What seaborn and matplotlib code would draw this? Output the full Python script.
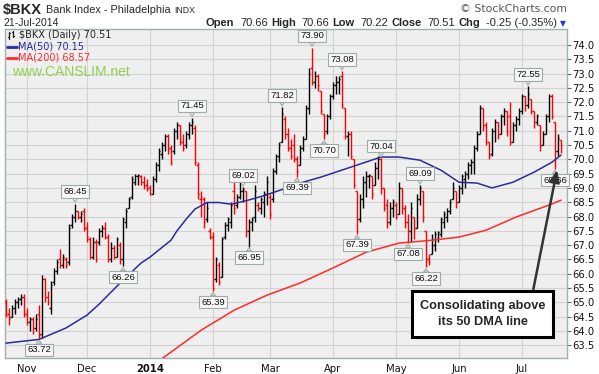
import numpy as np
import pandas as pd
import matplotlib
matplotlib.use('Agg')
import matplotlib.pyplot as plt
import seaborn as sns
from matplotlib.patches import Rectangle
from matplotlib.lines import Line2D

# ── Datos ─────────────────────────────────────────────────────────────────────
HOLIDAYS = ['2013-11-28', '2013-12-25', '2014-01-01', '2014-01-20',
            '2014-02-17', '2014-04-18', '2014-05-26', '2014-07-04']
MONTH_LABELS = ['Nov', 'Dec', '2014', 'Feb', 'Mar', 'Apr', 'May', 'Jun', 'Jul']

OPENS = [
    65.0, 64.6, 64.5, 64.8, 65.0, 65.1, 65.2, 64.6, 64.3, 64.4,
    64.1, 64.6, 63.9, 65.8, 65.2, 64.8, 65.7, 66.1, 66.5, 66.3,
    66.5, 66.4, 67.7, 68.0, 68.2, 68.0, 68.2, 67.6, 67.2, 66.6,
    67.1, 67.1, 67.5, 67.6, 67.3, 66.5, 66.9, 66.6, 67.0, 66.5,
    67.8, 68.3, 68.7, 69.2, 69.4, 69.4, 69.2, 69.1, 69.0, 68.8,
    69.3, 69.8, 70.2, 70.5, 70.8, 70.4, 70.3, 71.0, 71.2, 70.6,
    70.5, 70.9, 71.2, 71.1, 69.8, 68.6, 68.6, 67.9, 67.5, 67.3,
    65.8, 66.3, 65.9, 67.3, 67.7, 67.8, 68.9, 68.4, 68.7, 68.9,
    68.9, 67.5, 67.8, 68.0, 68.4, 68.3, 68.5, 68.8, 68.7, 68.6,
    69.6, 70.1, 70.6, 71.4, 70.9, 70.4, 70.5, 70.0, 69.8, 70.4,
    70.7, 71.8, 73.2, 72.7, 72.9, 72.4, 71.6, 71.0, 71.5, 72.2,
    72.6, 72.7, 72.9, 71.8, 70.8, 70.9, 70.0, 68.9, 67.9, 68.6,
    69.2, 69.4, 69.4, 69.1, 69.7, 70.0, 69.0, 68.4, 67.8, 68.3,
    68.4, 68.1, 69.0, 68.3, 67.8, 67.5, 68.0, 67.6, 68.6, 68.9,
    67.5, 66.5, 66.7, 67.0, 67.2, 67.4, 67.8, 68.0, 68.2, 68.6,
    68.9, 68.5, 69.0, 69.3, 69.5, 69.8, 69.9, 70.4, 70.9, 71.8,
    71.2, 70.6, 70.2, 71.0, 71.3, 70.9, 71.5, 71.7, 71.5, 70.6,
    71.2, 71.4, 71.7, 72.2, 71.9, 72.1, 71.7, 71.3, 71.2, 70.5,
    70.9, 71.5, 72.2, 71.3, 70.3, 70.66,
]
HIGHS = [
    65.1, 64.8, 64.9, 65.1, 65.2, 65.3, 65.3, 64.8, 64.5, 64.5,
    64.6, 64.9, 65.95, 65.85, 65.4, 65.75, 66.2, 66.5, 66.85, 66.7,
    66.6, 67.75, 68.1, 68.45, 68.2, 68.2, 68.3, 67.8, 67.3, 67.3,
    67.2, 67.6, 67.7, 67.8, 67.4, 67.1, 67.0, 67.3, 67.1, 68.0,
    68.3, 68.7, 69.4, 69.5, 69.5, 69.45, 69.4, 69.3, 69.1, 69.4,
    69.9, 70.4, 70.6, 70.9, 70.9, 70.5, 71.1, 71.3, 71.2, 70.9,
    71.0, 71.3, 71.45, 71.2, 69.9, 68.9, 68.7, 68.5, 67.6, 67.45,
    66.6, 66.4, 67.3, 67.8, 68.0, 68.5, 69.4, 68.8, 69.2, 69.02,
    68.9, 67.9, 68.0, 69.1, 68.5, 68.7, 68.9, 69.4, 68.8, 69.7,
    70.2, 70.6, 71.82, 71.5, 71.1, 70.7, 70.9, 70.1, 70.5, 70.8,
    71.9, 73.2, 73.90, 73.1, 73.0, 72.4, 71.6, 71.6, 72.3, 72.7,
    72.9, 72.9, 73.08, 71.8, 71.0, 71.0, 70.0, 68.9, 68.8, 69.4,
    69.6, 69.5, 69.4, 69.9, 70.1, 70.04, 69.0, 68.6, 68.5, 68.6,
    68.5, 69.2, 69.0, 68.4, 68.1, 68.5, 68.0, 68.8, 69.09, 68.9,
    67.5, 66.7, 67.4, 67.5, 67.5, 68.0, 68.2, 68.3, 68.6, 69.2,
    68.9, 69.1, 69.5, 69.6, 69.9, 70.0, 70.5, 71.0, 71.9, 71.8,
    71.3, 70.6, 71.1, 71.4, 71.3, 71.6, 71.8, 71.7, 72.0, 71.3,
    71.5, 71.8, 72.3, 72.2, 72.55, 72.1, 71.7, 71.6, 71.2, 71.0,
    71.6, 72.3, 72.3, 71.3, 70.9, 70.66,
]
LOWS = [
    64.5, 64.2, 64.5, 64.6, 64.8, 64.9, 64.5, 64.2, 64.0, 63.9,
    64.0, 63.72, 63.75, 65.0, 64.9, 64.6, 65.6, 66.0, 66.2, 66.2,
    66.2, 66.3, 67.6, 67.8, 67.9, 67.8, 67.5, 67.1, 66.5, 66.5,
    66.4, 67.0, 67.3, 67.2, 66.4, 66.4, 66.5, 66.6, 66.35, 66.26,
    67.6, 68.3, 68.6, 69.1, 69.1, 69.1, 68.95, 68.9, 68.75, 68.8,
    69.2, 69.6, 70.0, 70.3, 70.2, 69.8, 70.2, 70.7, 70.5, 70.3,
    70.4, 70.7, 70.9, 69.8, 68.6, 68.0, 67.6, 67.8, 67.2, 65.39,
    65.7, 65.6, 65.9, 67.2, 67.5, 67.6, 68.1, 68.3, 68.6, 68.5,
    67.3, 66.95, 67.5, 67.8, 68.2, 68.1, 68.0, 68.4, 67.9, 68.5,
    69.5, 69.9, 70.6, 70.7, 70.3, 70.0, 69.9, 69.39, 69.8, 70.3,
    70.7, 71.6, 72.6, 72.5, 72.4, 71.6, 70.70, 70.9, 71.4, 72.1,
    72.3, 72.3, 71.8, 70.7, 70.1, 70.0, 69.0, 67.39, 67.8, 68.3,
    68.7, 69.0, 68.6, 69.1, 69.3, 68.8, 68.2, 67.6, 67.7, 68.0,
    67.9, 68.1, 68.1, 67.6, 67.08, 67.1, 67.2, 67.6, 68.4, 67.8,
    66.22, 66.3, 66.7, 66.8, 67.1, 67.3, 67.6, 67.8, 68.1, 68.6,
    68.3, 68.5, 68.8, 69.0, 69.3, 69.5, 69.5, 70.3, 70.9, 71.0,
    70.5, 70.0, 70.1, 70.6, 70.7, 70.9, 71.2, 70.8, 70.5, 70.6,
    71.0, 71.2, 71.6, 71.7, 71.8, 71.6, 71.1, 71.2, 70.3, 70.5,
    70.9, 71.3, 71.4, 69.66, 70.1, 70.22,
]
CLOSES = [
    64.6, 64.4, 64.8, 65.0, 65.1, 65.2, 64.6, 64.3, 64.4, 64.1,
    64.4, 63.85, 65.8, 65.2, 65.0, 65.6, 66.1, 66.4, 66.3, 66.6,
    66.3, 67.6, 68.0, 68.2, 68.0, 68.1, 67.6, 67.3, 66.6, 67.1,
    66.5, 67.5, 67.6, 67.3, 66.5, 66.9, 66.6, 67.2, 66.5, 67.9,
    68.2, 68.6, 69.3, 69.4, 69.45, 69.2, 69.1, 69.0, 68.8, 69.3,
    69.8, 70.3, 70.5, 70.8, 70.4, 69.9, 71.0, 71.2, 70.6, 70.4,
    70.9, 71.2, 71.3, 69.9, 68.8, 68.7, 67.8, 68.3, 67.3, 65.5,
    66.5, 65.7, 67.2, 67.7, 67.9, 68.4, 68.3, 68.7, 68.9, 68.95,
    67.5, 67.8, 67.9, 68.9, 68.3, 68.6, 68.8, 69.2, 68.1, 69.6,
    70.1, 70.5, 71.6, 70.9, 70.4, 70.1, 70.0, 69.6, 70.4, 70.7,
    71.8, 73.0, 72.7, 72.9, 72.6, 71.7, 70.9, 71.5, 72.2, 72.6,
    72.7, 72.8, 71.9, 70.8, 70.9, 70.1, 69.1, 67.9, 68.6, 69.2,
    69.4, 69.45, 68.8, 69.7, 70.0, 69.0, 68.3, 67.8, 68.3, 68.5,
    68.0, 69.0, 68.3, 67.8, 67.5, 68.3, 67.6, 68.6, 69.0, 68.0,
    66.5, 66.4, 67.2, 67.4, 67.45, 67.9, 68.1, 68.2, 68.5, 69.0,
    68.5, 69.0, 69.4, 69.5, 69.8, 69.9, 70.4, 70.9, 71.8, 71.2,
    70.6, 70.1, 71.0, 71.3, 70.9, 71.5, 71.7, 71.0, 70.6, 71.2,
    71.4, 71.7, 72.2, 71.9, 72.3, 71.7, 71.3, 71.5, 70.5, 70.9,
    71.5, 72.2, 71.5, 70.3, 70.76, 70.51,
]

# medias móviles (muestras a lo largo de la curva, índice de sesión)
MA50_IDX = [0, 11, 20, 27, 31, 38, 45, 48, 55, 57, 60, 63, 67, 71, 75, 80,
            86, 93, 98, 105, 115, 125, 131, 138, 145, 151, 157, 162, 169,
            176, 182, 185]
MA50_VAL = [63.57, 63.7, 64.1, 64.55, 64.93, 65.67, 66.37, 66.58, 67.17,
            67.5, 67.9, 68.26, 68.49, 68.49, 68.43, 68.55, 68.73, 68.98,
            69.17, 69.38, 69.73, 70.08, 70.08, 69.97, 69.62, 69.2, 69.17,
            69.0, 69.2, 69.55, 69.9, 70.15]
MA200_IDX = [51, 65, 76, 87, 98, 109, 120, 131, 142, 151, 160, 170, 181, 185]
MA200_VAL = [62.95, 64.02, 64.72, 65.25, 65.67, 66.2, 66.75, 67.07, 67.17,
             67.28, 67.52, 67.98, 68.4, 68.57]

# etiquetas de máximos / mínimos
LABEL_IDX = [11, 23, 39, 62, 69, 79, 81, 92, 97, 102, 106, 112, 117, 125,
             134, 138, 140, 174, 183]
LABEL_VAL = [63.72, 68.45, 66.26, 71.45, 65.39, 69.02, 66.95, 71.82, 69.39,
             73.90, 70.70, 73.08, 67.39, 70.04, 67.08, 69.09, 66.22, 72.55,
             69.66]
LABEL_SIDE = ['low', 'high', 'low', 'high', 'low', 'high', 'low', 'high',
              'low', 'high', 'low', 'high', 'low', 'high', 'low', 'high',
              'low', 'high', 'low']

HEADER = [('Open', True), ('70.66', False), ('High', True), ('70.66', False),
          ('Low', True), ('70.22', False), ('Close', True), ('70.51', False),
          ('Chg', True), ('-0.25 (-0.35%)', False)]

Y_TICKS = np.arange(63.5, 74.01, 0.5)

# ── Figura ────────────────────────────────────────────────────────────────────
sns.set_style('white')
plt.rcParams['font.family'] = ['DejaVu Sans']

W, H = 599, 374
fig = plt.figure(figsize=(W / 100, H / 100), dpi=100)
fig.patch.set_facecolor('white')
renderer = fig.canvas.get_renderer()


def fx(x):
    return x / W


def fy(y):
    return 1 - y / H


def text_w(t):
    return t.get_window_extent(renderer=renderer).width


ax = fig.add_axes([fx(5), fy(358), fx(567) - fx(5), fy(29) - fy(358)])
ax.set_facecolor('#efefef')

dates = pd.bdate_range('2013-10-23', '2014-07-21')
dates = dates[~dates.isin(pd.to_datetime(HOLIDAYS))]
idx = np.arange(len(dates))
month_pos = [i for i in range(1, len(dates)) if dates[i].month != dates[i - 1].month]

o, h, l, c = map(np.array, (OPENS, HIGHS, LOWS, CLOSES))
prev = np.r_[o[0], c[:-1]]
cols = np.where(c >= prev, 'black', '#ff0000')

ax.vlines(idx, l, h, colors=cols, lw=1.0, zorder=3)
ax.hlines(o, idx - 0.5, idx, colors=cols, lw=1.0, zorder=3)
ax.hlines(c, idx, idx + 0.5, colors=cols, lw=1.0, zorder=3)

sns.lineplot(x=MA50_IDX, y=MA50_VAL, ax=ax, color='#2b2b9b', lw=1.1,
             legend=False, zorder=4)
sns.lineplot(x=MA200_IDX, y=MA200_VAL, ax=ax, color='#ff2a2a', lw=1.1,
             legend=False, zorder=4)

ax.set_xlim(-0.33, 187)
ax.set_ylim(63.05, 74.56)
ax.set_xlabel('')
ax.set_ylabel('')

ax.yaxis.tick_right()
ax.set_yticks(Y_TICKS)
ax.set_yticklabels([f'{v:.1f}' for v in Y_TICKS])
ax.tick_params(axis='y', length=3, width=0.8, color='#666666', pad=1,
               labelsize=7.2, labelcolor='#111111')
ax.set_xticks(month_pos)
ax.set_xticklabels(MONTH_LABELS)
ax.tick_params(axis='x', length=0, pad=4, labelsize=7.2, labelcolor='#111111')
for t in ax.get_xticklabels():
    if t.get_text() == '2014':
        t.set_fontweight('bold')

ax.grid(True, color='#d2d2d2', lw=0.8)
ax.set_axisbelow(True)
for s in ax.spines.values():
    s.set_color('#a3b0ab')
    s.set_linewidth(1.0)

# etiquetas de precio
for i, v, side in zip(LABEL_IDX, LABEL_VAL, LABEL_SIDE):
    dy = 12 if side == 'high' else -11
    ax.annotate(f'{v:.2f}', xy=(i, v), xytext=(0, dy * 0.72),
                textcoords='offset points', ha='center', va='center',
                fontsize=6.8, family='Liberation Sans', color='#111111',
                zorder=6,
                bbox=dict(boxstyle='square,pad=0.18', fc='#f7f7f7',
                          ec='#9eaca6', lw=0.8),
                arrowprops=dict(arrowstyle='wedge,tail_width=0.5,shrink_factor=0.5',
                                fc='#f7f7f7', ec='#9eaca6', lw=0.8,
                                shrinkA=0, shrinkB=1))

# ── Cabecera ──────────────────────────────────────────────────────────────────
t = fig.text(fx(3), fy(10), '$BKX', fontsize=10.5, fontweight='bold',
             family='Liberation Sans', va='center')
x = 3 + text_w(t) + 4
t = fig.text(fx(x), fy(10), 'Bank Index - Philadelphia', fontsize=7.8,
             family='Liberation Sans', va='center')
x += text_w(t) + 4
fig.text(fx(x), fy(10.5), 'INDX', fontsize=6.3, family='Liberation Sans',
         va='center')
fig.text(fx(3), fy(23), '21-Jul-2014', fontsize=7.5, family='Liberation Sans',
         va='center')
fig.text(fx(567), fy(9), '\u00a9 StockCharts.com', fontsize=7.8,
         family='DejaVu Sans', color='#555555', va='center', ha='right')

# piezas de la cabecera colocadas de derecha a izquierda
x = 557
for txt, bold in reversed(HEADER):
    t = fig.text(fx(x), fy(23), txt, fontsize=8, family='Liberation Sans',
                 fontweight='bold' if bold else 'normal', va='center',
                 ha='right')
    x -= text_w(t) + (3 if bold else 6)
fig.text(fx(563), fy(23.5), '\u25bc', fontsize=5.5, color='#2233dd',
         va='center', ha='center', family='DejaVu Sans')

# ── Leyenda ───────────────────────────────────────────────────────────────────
for xs, ys in [([9, 9], [32, 39]), ([8, 9], [37, 37]), ([9, 10], [33, 33]),
               ([13, 13], [31, 37]), ([12, 13], [32, 32]), ([13, 14], [36, 36])]:
    fig.add_artist(Line2D([fx(v) for v in xs], [fy(v) for v in ys],
                          color='#222222', lw=0.9, transform=fig.transFigure))
fig.text(fx(19), fy(35.5), '$BKX (Daily) 70.51', fontsize=7, va='center')
fig.add_artist(Line2D([fx(7), fx(17)], [fy(46.5), fy(46.5)], color='#2b2b9b',
                      lw=2, transform=fig.transFigure))
fig.text(fx(18), fy(46.5), 'MA(50) 70.15', fontsize=7, color='#2b2b9b',
         va='center')
fig.add_artist(Line2D([fx(7), fx(17)], [fy(57.5), fy(57.5)], color='#ff2a2a',
                      lw=2, transform=fig.transFigure))
fig.text(fx(18), fy(57.5), 'MA(200) 68.57', fontsize=7, color='#ff2a2a',
         va='center')
fig.text(fx(12), fy(72.5), 'www.CANSLIM.net', fontsize=10,
         family='Liberation Sans', color='#8fd14f', va='center')

# ── Nota con flecha ───────────────────────────────────────────────────────────
fig.add_artist(Rectangle((fx(412), fy(337)), fx(553) - fx(412),
                         fy(291) - fy(337), transform=fig.transFigure,
                         fc='white', ec='black', lw=2.2, zorder=7))
fig.text(fx(482.5), fy(306.5), 'Consolidating above', fontsize=9.2,
         fontweight='bold', family='Liberation Sans', ha='center',
         va='center', zorder=8)
fig.text(fx(482.5), fy(322), 'its 50 DMA line', fontsize=9.2,
         fontweight='bold', family='Liberation Sans', ha='center',
         va='center', zorder=8)
ax.annotate('', xy=(fx(557), fy(170)), xycoords='figure fraction',
            xytext=(fx(533), fy(291)), textcoords='figure fraction',
            arrowprops=dict(arrowstyle='-|>,head_length=0.7,head_width=0.3',
                            color='#333333', lw=1.8, shrinkA=0, shrinkB=0),
            zorder=9, annotation_clip=False)

fig.savefig('out.png', dpi=100)
